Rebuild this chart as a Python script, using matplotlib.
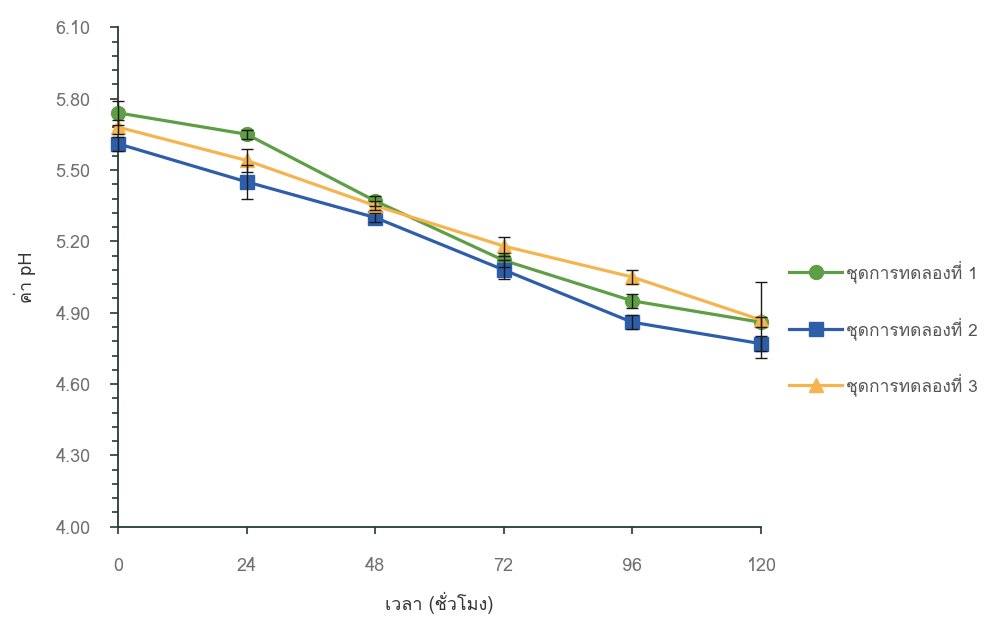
import matplotlib
matplotlib.use('Agg')
import matplotlib.pyplot as plt
from matplotlib.ticker import AutoMinorLocator, FixedLocator

plt.rcParams['font.family'] = ['Loma', 'Sarabun', 'DejaVu Sans']

# ข้อมูล: ค่า pH ตามเวลา
hours = [0, 24, 48, 72, 96, 120]
ph_set1 = [5.74, 5.65, 5.37, 5.12, 4.95, 4.86]
ph_set2 = [5.61, 5.45, 5.30, 5.08, 4.86, 4.77]
ph_set3 = [5.68, 5.54, 5.35, 5.18, 5.05, 4.87]
err_set1 = [0.05, 0.02, 0.02, 0.03, 0.03, 0.02]
err_set2 = [0.03, 0.07, 0.02, 0.04, 0.03, 0.03]
err_set3 = [0.03, 0.05, 0.02, 0.04, 0.03, 0.16]
labels = ['ชุดการทดลองที่ 1', 'ชุดการทดลองที่ 2', 'ชุดการทดลองที่ 3']
yticks = [4.00, 4.30, 4.60, 4.90, 5.20, 5.50, 5.80, 6.10]

colors = ['#5E9E45', '#2E5DAA', '#F6B44E']
markers = ['o', 's', '^']

fig = plt.figure(figsize=(9.93, 6.19), dpi=100)
ax = fig.add_axes([0.119, 0.149, 0.647, 0.807])

series = [ph_set1, ph_set2, ph_set3]
errs = [err_set1, err_set2, err_set3]
for vals, e, c, m, lab in zip(series, errs, colors, markers, labels):
    ax.errorbar(hours, vals, yerr=e, fmt='none', ecolor='#1a1a1a',
                elinewidth=1.0, capsize=4, capthick=1.0, zorder=4,
                clip_on=False)
    ax.plot(hours, vals, color=c, marker=m, markersize=10, linewidth=2.3,
            label=lab, zorder=3, clip_on=False)

ax.set_xlim(0, 120)
ax.set_ylim(4.00, 6.10)
ax.xaxis.set_major_locator(FixedLocator(hours))
ax.yaxis.set_major_locator(FixedLocator(yticks))
ax.yaxis.set_minor_locator(AutoMinorLocator(5))
ax.set_yticklabels(['%.2f' % v for v in yticks])

for s in ['top', 'right']:
    ax.spines[s].set_visible(False)
for s in ['left', 'bottom']:
    ax.spines[s].set_color('#263b33')
    ax.spines[s].set_linewidth(1.3)

ax.tick_params(axis='y', which='major', direction='out', length=6, width=1.2,
               color='#263b33', pad=14, labelsize=13, labelcolor='#707070')
ax.tick_params(axis='y', which='minor', direction='out', length=4, width=1.2,
               color='#263b33')
ax.tick_params(axis='x', which='major', direction='out', length=5, width=1.2,
               color='#263b33', pad=17, labelsize=13, labelcolor='#707070')

ax.set_ylabel('ค่า pH', fontsize=13, color='#333333', labelpad=14)
ax.set_xlabel('เวลา (ชั่วโมง)', fontsize=13, color='#333333', labelpad=12)

fig.legend(loc='center left', bbox_to_anchor=(0.779, 0.47), frameon=False,
           fontsize=12.5, handlelength=3.05, handletextpad=0.2,
           labelspacing=1.95, labelcolor='#555555')

fig.savefig('out.png', dpi=100)
